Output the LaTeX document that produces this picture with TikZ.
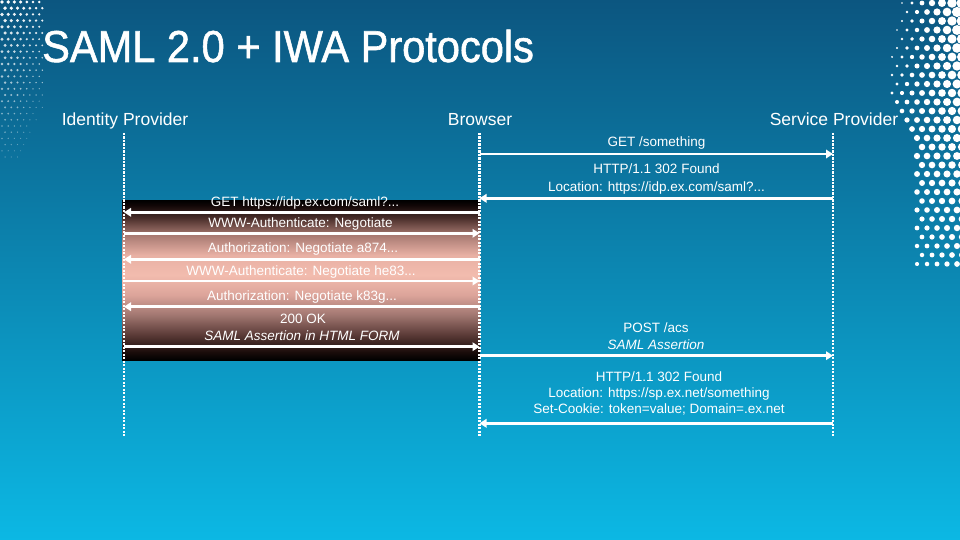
\documentclass[tikz,border=0pt]{standalone}
\usepackage{fontspec}
\setmainfont{Liberation Sans}
\newfontfamily\titlefont[FakeBold=1.3]{Liberation Sans}
\usetikzlibrary{arrows.meta}
\definecolor{bgtop}{RGB}{12,86,128}
\definecolor{bgmid}{RGB}{10,140,192}
\definecolor{bgbot}{RGB}{12,184,228}
\definecolor{bk}{RGB}{0,0,0}
\definecolor{b1}{RGB}{26,12,10}
\definecolor{b2}{RGB}{90,58,54}
\definecolor{b3}{RGB}{160,118,112}
\definecolor{b4}{RGB}{220,164,154}
\definecolor{b5}{RGB}{242,188,174}
\definecolor{b6}{RGB}{232,176,164}
\definecolor{b7}{RGB}{168,122,114}
\definecolor{b8}{RGB}{74,46,42}
\definecolor{b9}{RGB}{16,6,6}
\pgfdeclareverticalshading{bandshade}{100bp}{color(0bp)=(bk); color(25bp)=(bk); color(27.5bp)=(b1); color(32.8bp)=(b2); color(39bp)=(b3); color(45.3bp)=(b4); color(51.6bp)=(b5); color(57.8bp)=(b6); color(64bp)=(b7); color(69.4bp)=(b8); color(73.4bp)=(b9); color(75bp)=(bk); color(100bp)=(bk)}
\begin{document}
\begin{tikzpicture}[x=1pt,y=-1pt,
  lbl/.style={text=white,font=\fontsize{13.5}{17}\selectfont,inner sep=0pt,text height=0.72em,text depth=0pt},
  hdr/.style={text=white,font=\fontsize{17.5}{20}\selectfont,inner sep=0pt,anchor=base},
  msg/.style={draw=white,line width=2.6pt,-{Triangle[length=7pt,width=8.5pt]}},
  lifeline/.style={draw=white,line width=2.4pt,dash pattern=on 2.2pt off 1.3pt},
  dot/.style={fill=white,draw=none}]
\useasboundingbox (0,0) rectangle (960,540);
\shade[top color=bgtop,middle color=bgmid,bottom color=bgbot] (0,0) rectangle (960,540);
% decorative dots
\begin{scope}
\clip (0,0) rectangle (960,540);
% left
\foreach \i in {0,...,6}{
  \foreach \j in {0,...,25}{
    \pgfmathsetmacro{\dotX}{2+6.2*\i+mod(\j,2)*3.1}
    \pgfmathsetmacro{\dotY}{2+6.2*\j}
    \pgfmathsetmacro{\dotR}{2.0-\dotY/125-0.11*\i}
    \pgfmathsetmacro{\dotO}{max(0.3,1-\dotY/220)}
    \ifdim\dotR pt>0.45pt
      \fill[dot,opacity=\dotO] (\dotX,\dotY) circle[radius=\dotR pt];
    \fi
  }
}
% right
\foreach \i in {0,...,8}{
  \foreach \j in {0,...,29}{
    \pgfmathsetmacro{\dotY}{3+9*\j}
    \pgfmathsetmacro{\dotD}{10*\i+mod(\j,2)*5}
    \pgfmathsetmacro{\dotX}{962-\dotD}
    \pgfmathsetmacro{\dotA}{5.6-0.01*\dotY}
    \pgfmathsetmacro{\dotB}{max(0.02,0.08-0.0004*\dotY)}
    \pgfmathsetmacro{\dotM}{(\dotY<100) ? 72 : max(45,72-(\dotY-100)*0.5)}
    \pgfmathsetmacro{\dotR}{(\dotD>\dotM) ? 0 : (\dotA-\dotB*\dotD)}
    \ifdim\dotR pt>0.7pt
      \fill[dot] (\dotX,\dotY) circle[radius=\dotR pt];
    \fi
  }
}
\end{scope}
% title
\node[anchor=base west,text=white,inner sep=0pt,font=\titlefont\fontsize{44.7}{50}\selectfont] (title) at (42,62) {\scalebox{0.93}[1]{SAML 2.0 + IWA Protocols}};
% headers
\node[hdr] (hIdp) at (125,126) {Identity Provider};
\node[hdr] (hBr) at (480,126) {Browser};
\node[hdr] (hSp) at (834,126) {Service Provider};
% band
\shade[shading=bandshade] (122,200) rectangle (480,360);
% lifelines
\coordinate (idpT) at (124,133); \coordinate (idpB) at (124,437);
\coordinate (brT) at (479.5,133); \coordinate (brB) at (479.5,437);
\coordinate (spT) at (833,133); \coordinate (spB) at (833,437);
\draw[lifeline] (idpT) -- (idpB);
\draw[lifeline] (brT) -- (brB);
\draw[lifeline] (spT) -- (spB);
% labels
\node[lbl] (m1) at (656.5,142.7) {GET /something};
\node[lbl] (m2a) at (656.5,170) {HTTP/1.1 302 Found};
\node[lbl] (m2b) at (656.5,188.3) {Location: https://idp.ex.com/saml?...};
\node[lbl] (m3) at (305,203.3) {GET https://idp.ex.com/saml?...};
\node[lbl] (m4) at (300.5,224) {WWW-Authenticate: Negotiate};
\node[lbl] (m5) at (303,249) {Authorization: Negotiate a874...};
\node[lbl] (m6) at (301,271.7) {WWW-Authenticate: Negotiate he83...};
\node[lbl] (m7) at (302,296.7) {Authorization: Negotiate k83g...};
\node[lbl] (m8a) at (303,320) {200 OK};
\node[lbl] (m8b) at (302,336.7) {\itshape SAML Assertion in HTML FORM};
\node[lbl] (m9a) at (656,329.3) {POST /acs};
\node[lbl] (m9b) at (656,345.7) {\itshape SAML Assertion};
\node[lbl] (m10a) at (659,377.7) {HTTP/1.1 302 Found};
\node[lbl] (m10b) at (659,394.3) {Location: https://sp.ex.net/something};
\node[lbl] (m10c) at (659,410) {Set-Cookie: token=value; Domain=.ex.net};
% messages
\draw[msg] (brT |- 0,154) -- (spT |- 0,154);
\draw[msg] (spT |- 0,198.3) -- (brT |- 0,198.3);
\draw[msg] (brT |- 0,212.3) -- (idpT |- 0,212.3);
\draw[msg] (idpT |- 0,233.3) -- (brT |- 0,233.3);
\draw[msg] (brT |- 0,259.3) -- (idpT |- 0,259.3);
\draw[msg] (idpT |- 0,281) -- (brT |- 0,281);
\draw[msg] (brT |- 0,306.7) -- (idpT |- 0,306.7);
\draw[msg] (idpT |- 0,346.7) -- (brT |- 0,346.7);
\draw[msg] (brT |- 0,355.7) -- (spT |- 0,355.7);
\draw[msg] (spT |- 0,423.3) -- (brT |- 0,423.3);
\end{tikzpicture}
\end{document}
